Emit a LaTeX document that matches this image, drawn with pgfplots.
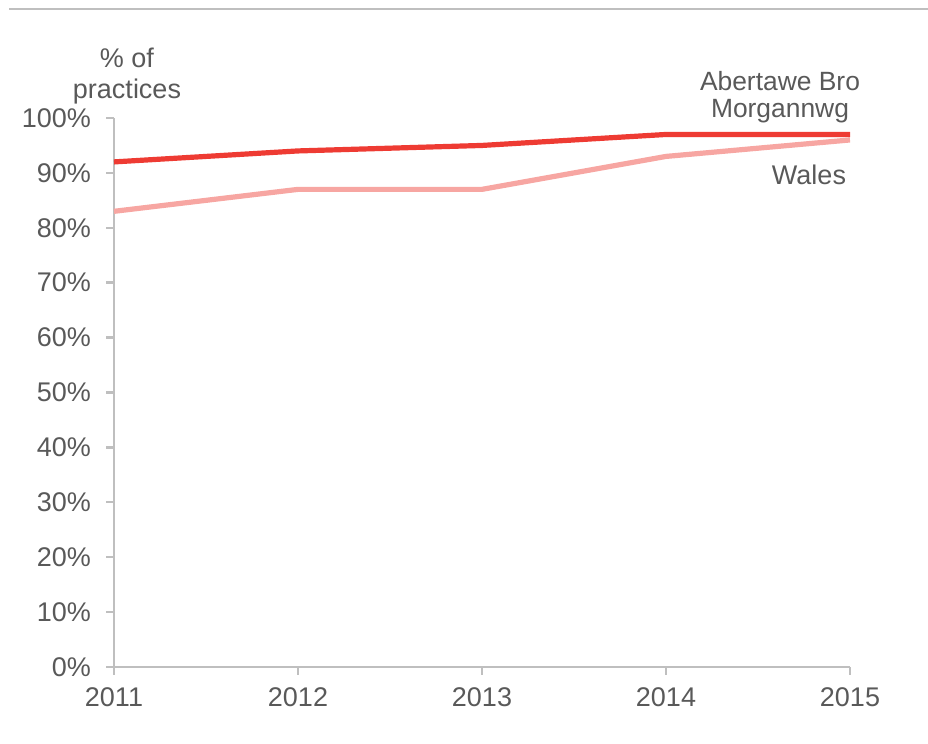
\documentclass[border=0pt]{standalone}
\usepackage{fontspec}
\setmainfont{Liberation Sans}
\usepackage{pgfplots}
\pgfplotsset{compat=1.18}
\definecolor{abm}{HTML}{EE3B33}
\definecolor{wal}{HTML}{F7A6A2}
\definecolor{txt}{HTML}{595959}
\definecolor{ax}{HTML}{BFBFBF}
\begin{document}
\begin{tikzpicture}[x=0.5pt,y=0.5pt]
\path[use as bounding box] (0,0) rectangle (928,744);
\draw[ax, line width=1pt] (9,735) -- (928,735);
\begin{axis}[
  at={(57pt,38.5pt)}, anchor=origin,
  scale only axis, width=368pt, height=274.5pt,
  xmin=2011, xmax=2015, ymin=0, ymax=100,
  axis x line*=bottom, axis y line*=left,
  axis line style={ax, line width=1.2pt},
  xtick={2011,2012,2013,2014,2015},
  xticklabels={2011,2012,2013,2014,2015},
  ytick={0,10,...,100},
  yticklabel={\pgfmathprintnumber{\tick}\%},
  tick style={ax, line width=1.2pt},
  tick align=outside,
  major tick length=4pt,
  /pgf/number format/assume math mode=true,
  ticklabel style={font=\fontsize{13.5}{16}\selectfont, text=txt},
  yticklabel style={xshift=-4pt},
  xticklabel style={yshift=-3pt},
  clip=false,
]
\addplot[wal, line width=2.6pt] coordinates {(2011,83) (2012,87) (2013,87) (2014,93) (2015,96)};
\addplot[abm, line width=2.6pt] coordinates {(2011,92) (2012,94) (2013,95) (2014,97) (2015,97)};
\end{axis}
\node[text=txt, align=center, font=\fontsize{13.5}{15.5}\selectfont] at (127,668) {\% of\\practices};
\node[text=txt, align=center, font=\fontsize{13.2}{13.5}\selectfont] at (780,647) {Abertawe Bro\\Morgannwg};
\node[text=txt, font=\fontsize{13.5}{14}\selectfont] at (809,569) {Wales};
\end{tikzpicture}
\end{document}
